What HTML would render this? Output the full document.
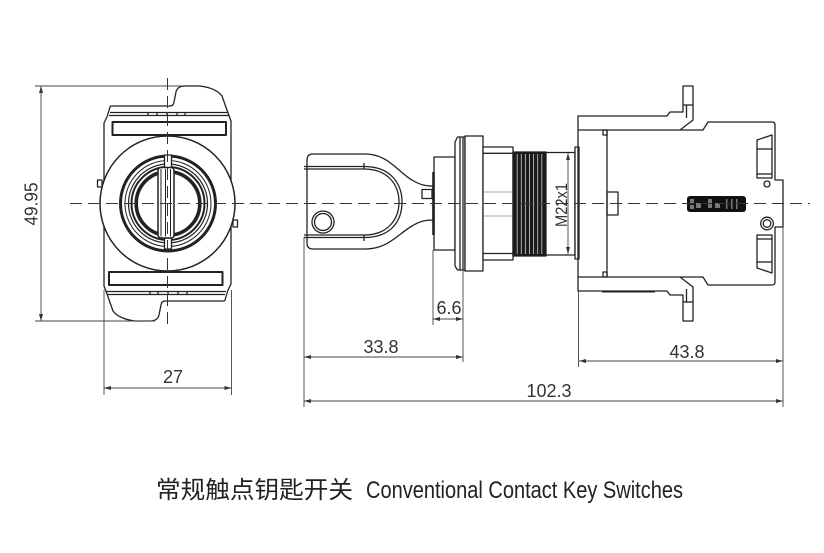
<!DOCTYPE html>
<html>
<head>
<meta charset="utf-8">
<style>
  html,body{margin:0;padding:0;background:#fff;}
  svg{display:block;}
  .d{font-family:"Liberation Sans",Arial,sans-serif;font-size:18px;fill:#333;}
</style>
</head>
<body>
<svg width="824" height="553" viewBox="0 0 824 553" xmlns="http://www.w3.org/2000/svg" xmlns:xlink="http://www.w3.org/1999/xlink">
  <rect width="824" height="553" fill="#fff"/>

  <!-- ================= LEFT FRONT VIEW ================= -->
  <g fill="none" stroke="#222" stroke-width="1.3" stroke-linejoin="round">
    <g id="lh">
      <path d="M104,203.5 L104,123 L107,117 L110,107 Q110,106 112,106 L170,106 Q173.5,106 174,102 L176,92 Q177.5,86 185,86 L200,86 Q216,88 222,96 L228,113 L231,121 L231,203.5"/>
      <line x1="110" y1="112.5" x2="228" y2="112.5"/>
      <line x1="109" y1="115.5" x2="229" y2="115.5"/>
      <line x1="148" y1="112.5" x2="148" y2="115.5"/>
      <line x1="157" y1="112.5" x2="157" y2="115.5"/>
      <line x1="167" y1="112.5" x2="167" y2="115.5"/>
      <line x1="177" y1="112.5" x2="177" y2="115.5"/>
      <line x1="185" y1="112.5" x2="185" y2="115.5"/>
      <rect x="112.5" y="122" width="113.5" height="13" stroke-width="2"/>
    </g>
    <use xlink:href="#lh" href="#lh" transform="rotate(180 167.5 203.5)"/>

    <circle cx="167.5" cy="203.5" r="67.5" fill="#fff" stroke-width="1.5"/>
    <rect x="97.5" y="180" width="4.5" height="7" fill="#fff"/>
    <rect x="233" y="220" width="4.5" height="7" fill="#fff"/>

    <!-- rings -->
    <circle cx="168" cy="203.5" r="47.5" stroke-width="3"/>
    <circle cx="168" cy="203.5" r="43" stroke-width="1"/>
    <circle cx="168" cy="203.5" r="39.5" stroke-width="1.2"/>
    <circle cx="168" cy="203.5" r="36.5" stroke-width="2"/>
    <circle cx="168" cy="203.5" r="31.8" stroke-width="3.6" fill="#fff"/>

    <!-- key slot bar -->
    <rect x="164.5" y="155" width="7" height="13" fill="#fff"/>
    <rect x="164.5" y="238" width="7" height="11" fill="#fff"/>
    <rect x="158" y="167.5" width="16" height="70.5" rx="3" fill="#fff" stroke-width="1.5"/>
    <line x1="161" y1="169" x2="161" y2="236.5" stroke-width="1"/>
    <line x1="165.5" y1="169" x2="165.5" y2="236.5" stroke-width="1"/>
    <line x1="170.5" y1="169" x2="170.5" y2="236.5" stroke-width="1"/>
  </g>

  <!-- ================= KEY ================= -->
  <g fill="none" stroke="#222" stroke-width="1.3" stroke-linejoin="round">
    <path d="M313,154 L365,154 C388,154 398,172 412,180 C420,185 426,186 433,186 L433,220 C426,220 420,221 412,226 C398,234 388,249 365,249 L313,249 Q307,249 307,243 L307,160 Q307,154 313,154 Z" fill="#fff"/>
    <path d="M304,166.5 L364,166.5 C392,166.5 402,185 402,202 C402,220 392,237.5 364,237.5 L304,237.5"/>
    <path d="M304,169 L364,169 C389,169 399,186 399,202 C399,218 389,235 364,235 L304,235"/>
    <line x1="364" y1="163" x2="364" y2="169"/>
    <line x1="364" y1="235" x2="364" y2="241"/>
    <circle cx="323" cy="222" r="11"/>
    <circle cx="323" cy="222" r="8.5"/>
    <rect x="422" y="189.5" width="10" height="9"/>

    <!-- plug -->
    <rect x="434" y="157" width="21" height="93" fill="#fff"/>
    <line x1="433.5" y1="172" x2="433.5" y2="235" stroke-width="2.6"/>
    <polygon points="455,142 457.5,137 465,137 465,270 457.5,270 455,266" fill="#fff"/>
    <line x1="460" y1="137" x2="460" y2="270"/>
    <line x1="463" y1="137" x2="463" y2="270"/>
    <rect x="465" y="136" width="18" height="135" fill="#fff"/>

    <!-- nut -->
    <rect x="483" y="147" width="30" height="113" fill="#fff"/>
    <line x1="483" y1="153.3" x2="513" y2="153.3"/>
    <line x1="483" y1="253.5" x2="513" y2="253.5"/>
    <line x1="483" y1="192" x2="513" y2="192" stroke="#888" stroke-width="0.8"/>
    <line x1="483" y1="216" x2="513" y2="216" stroke="#888" stroke-width="0.8"/>

    <!-- thread -->
    <rect x="513" y="152" width="33" height="104" fill="#1a1a1a"/>
    <g stroke="#bbb" stroke-width="0.9">
      <line x1="517.2" y1="154" x2="517.2" y2="254"/>
      <line x1="521.3" y1="154" x2="521.3" y2="254"/>
      <line x1="525.4" y1="154" x2="525.4" y2="254"/>
      <line x1="529.5" y1="154" x2="529.5" y2="254"/>
      <line x1="533.6" y1="154" x2="533.6" y2="254"/>
      <line x1="537.7" y1="154" x2="537.7" y2="254"/>
      <line x1="541.8" y1="154" x2="541.8" y2="254"/>
    </g>

    <rect x="546" y="152.5" width="29" height="102.5" fill="#fff"/>
    <rect x="575" y="147" width="4" height="112" fill="#fff"/>
  </g>

  <!-- ================= RIGHT BODY ================= -->
  <g fill="none" stroke="#222" stroke-width="1.3" stroke-linejoin="round">
    <g id="rh">
      <path d="M578,203.5 L578,116 L667,116 L670,112 L683,112 L683,86 L693,86 L693,120 L680,130 L703,130 L708,122 L772,122 Q775,122 775,125 L775,180 L783,180 L783,203.5"/>
      <line x1="578" y1="130" x2="680" y2="130"/>
      <line x1="683" y1="105" x2="693" y2="105"/>
      <line x1="686.5" y1="105" x2="686.5" y2="118"/>
      <rect x="603" y="130" width="4" height="5"/>
    </g>
    <use xlink:href="#rh" href="#rh" transform="matrix(1 0 0 -1 0 407)"/>
    <line x1="602" y1="291.5" x2="655" y2="291.5" stroke-width="2"/>
    <line x1="607" y1="130" x2="607" y2="277"/>
    <rect x="607" y="192" width="11" height="23"/>

    <!-- slots -->
    <polygon points="757,140 772,135 772,178 757,178"/>
    <line x1="757" y1="149" x2="772" y2="149"/>
    <line x1="757" y1="174" x2="772" y2="174"/>
    <polygon points="757,235 772,235 772,273 757,268"/>
    <line x1="757" y1="239" x2="772" y2="239"/>
    <line x1="757" y1="262" x2="772" y2="262"/>

    <circle cx="767" cy="184" r="3"/>
    <circle cx="767" cy="223.5" r="6.3"/>
    <circle cx="767" cy="223.5" r="3.8"/>
  </g>

  <!-- label -->
  <rect x="687" y="196" width="59" height="16" rx="3" fill="#111"/>
  <g fill="#777">
    <rect x="690" y="199" width="4" height="4"/>
    <rect x="696" y="203" width="5" height="5"/>
    <rect x="690" y="205" width="4" height="4"/>
    <rect x="708" y="199" width="4" height="9"/>
    <rect x="715" y="203" width="5" height="5"/>
    <rect x="726" y="199" width="1.5" height="10"/>
    <rect x="731" y="199" width="1.5" height="10"/>
    <rect x="736" y="199" width="1.5" height="10"/>
  </g>

  <!-- ================= CENTER LINES ================= -->
  <g stroke="#333" stroke-width="1" stroke-dasharray="12 6" fill="none">
    <line x1="70" y1="203.5" x2="810" y2="203.5"/>
    <line x1="167.5" y1="78" x2="167.5" y2="327"/>
  </g>

  <!-- ================= DIMENSIONS ================= -->
  <g stroke="#444" stroke-width="0.9" fill="none">
    <line x1="35" y1="86" x2="182" y2="86"/>
    <line x1="35" y1="321" x2="155" y2="321"/>
    <line x1="41" y1="86" x2="41" y2="321"/>
    <line x1="104" y1="290" x2="104" y2="395"/>
    <line x1="231.5" y1="290" x2="231.5" y2="395"/>
    <line x1="104" y1="388" x2="231.5" y2="388"/>
    <line x1="304" y1="237" x2="304" y2="407"/>
    <line x1="433" y1="250" x2="433" y2="325"/>
    <line x1="463" y1="270" x2="463" y2="362"/>
    <line x1="578.5" y1="291" x2="578.5" y2="367"/>
    <line x1="783" y1="227" x2="783" y2="407"/>
    <line x1="433" y1="319" x2="463" y2="319"/>
    <line x1="304" y1="357" x2="463" y2="357"/>
    <line x1="579" y1="361" x2="783" y2="361"/>
    <line x1="304" y1="401" x2="783" y2="401"/>
    <line x1="568" y1="153" x2="568" y2="254"/>
  </g>
  <g fill="#333">
    <polygon points="41,86 39,93 43,93"/>
    <polygon points="41,321 39,314 43,314"/>
    <polygon points="104,388 111,386 111,390"/>
    <polygon points="231.5,388 224.5,386 224.5,390"/>
    <polygon points="433,319 440,317 440,321"/>
    <polygon points="463,319 456,317 456,321"/>
    <polygon points="304,357 311,355 311,359"/>
    <polygon points="463,357 456,355 456,359"/>
    <polygon points="579,361 586,359 586,363"/>
    <polygon points="783,361 776,359 776,363"/>
    <polygon points="304,401 311,399 311,403"/>
    <polygon points="783,401 776,399 776,403"/>
    <polygon points="568,153 566,160 570,160"/>
    <polygon points="568,254 566,247 570,247"/>
  </g>

  <text class="d" x="173" y="383" text-anchor="middle">27</text>
  <text class="d" transform="translate(37.5,204) rotate(-90)" text-anchor="middle" textLength="43" lengthAdjust="spacingAndGlyphs">49.95</text>
  <text class="d" x="449" y="314" text-anchor="middle">6.6</text>
  <text class="d" x="381" y="353" text-anchor="middle">33.8</text>
  <text class="d" x="687" y="358" text-anchor="middle">43.8</text>
  <text class="d" x="549" y="397" text-anchor="middle">102.3</text>
  <text class="d" transform="translate(567,205) rotate(-90)" text-anchor="middle" style="font-size:17px" textLength="44" lengthAdjust="spacingAndGlyphs">M22x1</text>

  <!-- ================= CAPTION ================= -->
  <text x="156" y="498" style="font-family:'Liberation Sans','Noto Sans CJK SC',sans-serif;font-size:24px;fill:#222" textLength="197" lengthAdjust="spacingAndGlyphs">常规触点钥匙开关</text>
  <text x="366" y="498" style="font-family:'Liberation Sans',Arial,sans-serif;font-size:24.5px;fill:#222" textLength="317" lengthAdjust="spacingAndGlyphs">Conventional Contact Key Switches</text>
</svg>
</body>
</html>
